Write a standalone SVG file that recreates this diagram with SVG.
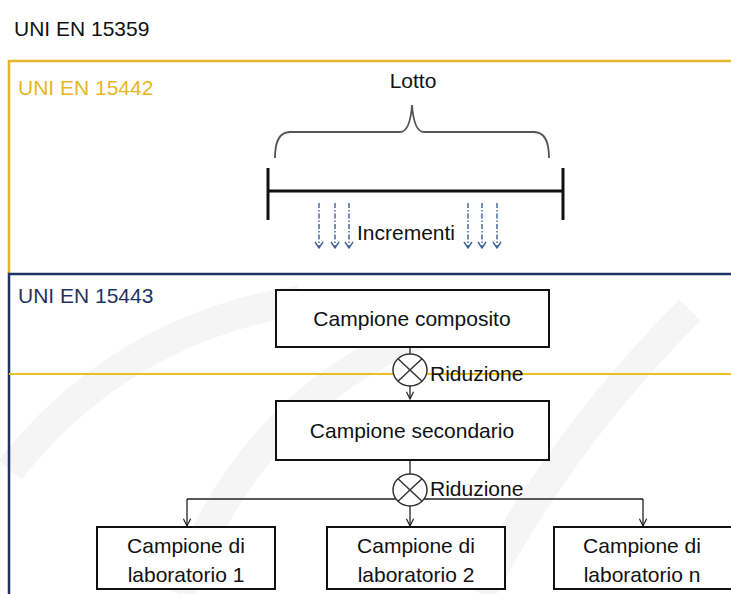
<svg xmlns="http://www.w3.org/2000/svg" width="731" height="594" viewBox="0 0 731 594">
<style>
text{font-family:"Liberation Sans",Arial,sans-serif;font-size:21px;fill:#111}
.c{text-anchor:middle}
.box{fill:#fff;stroke:#111;stroke-width:2}
.ln{fill:none;stroke:#222;stroke-width:1.3}
.inc{fill:none;stroke:#3d5f94;stroke-width:1.4;stroke-dasharray:5 2 1.5 2}
.incH{fill:none;stroke:#3d5f94;stroke-width:1.4}
.wm{fill:none;stroke:#f5f5f5;stroke-width:30}
</style>
<defs>
<marker id="ah" viewBox="0 0 10 10" refX="9" refY="5" markerWidth="9" markerHeight="9" orient="auto" markerUnits="userSpaceOnUse">
<path d="M1,1 L9,5 L1,9" fill="none" stroke="#222" stroke-width="1.3"/>
</marker>
</defs>
<rect x="0" y="0" width="731" height="594" fill="#fff"/>
<g id="watermark">
<path class="wm" d="M10,470 Q120,330 300,300"/>
<path class="wm" d="M180,594 Q250,400 430,330"/>
<path class="wm" d="M480,594 Q560,440 690,310"/>
</g>
<text x="14" y="36">UNI EN 15359</text>
<g id="frame-15442">
<path d="M731,61 L9,61 L9,274" fill="none" stroke="#e4b52a" stroke-width="2.5"/>
<text x="18" y="95" style="fill:#e8b526">UNI EN 15442</text>
</g>
<g id="frame-15443">
<path d="M731,274 L9,274 L9,594" fill="none" stroke="#1f3462" stroke-width="2.5"/>
<text x="18" y="303" style="fill:#1f3462">UNI EN 15443</text>
</g>
<line x1="9" y1="374" x2="731" y2="374" stroke="#e8c020" stroke-width="2"/>
<g id="lotto">
<text class="c" x="413" y="88">Lotto</text>
<path d="M275,158 Q275,132 290,132 L400,132 Q410,132 412,105 Q414,132 424,132 L534,132 Q549,132 549,158" fill="none" stroke="#555" stroke-width="1.8"/>
<line x1="268" y1="168" x2="268" y2="220" stroke="#111" stroke-width="3"/>
<line x1="563" y1="168" x2="563" y2="220" stroke="#111" stroke-width="3"/>
<line x1="268" y1="191" x2="563" y2="191" stroke="#111" stroke-width="3"/>
</g>
<g id="incrementi">
<path class="inc" d="M319,203 V247 M335,203 V247 M349,203 V247 M468,203 V247 M482,203 V247 M497,203 V247"/>
<path class="incH" d="M315,242 L319,248 L323,242 M331,242 L335,248 L339,242 M345,242 L349,248 L353,242 M464,242 L468,248 L472,242 M478,242 L482,248 L486,242 M493,242 L497,248 L501,242"/>
<text x="357" y="240">Incrementi</text>
</g>
<g id="connectors">
<line class="ln" x1="410" y1="347" x2="410" y2="354"/>
<line class="ln" x1="410" y1="386" x2="410" y2="399" marker-end="url(#ah)"/>
<line class="ln" x1="410" y1="460" x2="410" y2="474"/>
<path class="ln" d="M187,499 H643"/>
<line class="ln" x1="187" y1="499" x2="187" y2="526" marker-end="url(#ah)"/>
<line class="ln" x1="410" y1="506" x2="410" y2="526" marker-end="url(#ah)"/>
<line class="ln" x1="643" y1="499" x2="643" y2="526" marker-end="url(#ah)"/>
</g>
<g id="riduzione1">
<ellipse cx="410" cy="370" rx="17" ry="16" fill="#fff" stroke="#333" stroke-width="1.5"/>
<path d="M398,358.7 L422,381.3 M422,358.7 L398,381.3" stroke="#333" stroke-width="1.5"/>
<text x="430" y="381">Riduzione</text>
</g>
<g id="riduzione2">
<ellipse cx="410" cy="490" rx="17" ry="16" fill="#fff" stroke="#333" stroke-width="1.5"/>
<path d="M398,478.7 L422,501.3 M422,478.7 L398,501.3" stroke="#333" stroke-width="1.5"/>
<text x="430" y="496">Riduzione</text>
</g>
<g id="campione-composito">
<rect class="box" x="276" y="290" width="273" height="57"/>
<text class="c" x="412" y="326">Campione composito</text>
</g>
<g id="campione-secondario">
<rect class="box" x="276" y="401" width="273" height="59"/>
<text class="c" x="412" y="438">Campione secondario</text>
</g>
<g id="lab1">
<rect class="box" x="97" y="527" width="178" height="62"/>
<text class="c" x="186" y="553">Campione di</text>
<text class="c" x="186" y="582">laboratorio 1</text>
</g>
<g id="lab2">
<rect class="box" x="327" y="527" width="178" height="62"/>
<text class="c" x="416" y="553">Campione di</text>
<text class="c" x="416" y="582">laboratorio 2</text>
</g>
<g id="labn">
<rect class="box" x="554" y="527" width="180" height="62"/>
<text class="c" x="642" y="553">Campione di</text>
<text class="c" x="642" y="582">laboratorio n</text>
</g>
</svg>
